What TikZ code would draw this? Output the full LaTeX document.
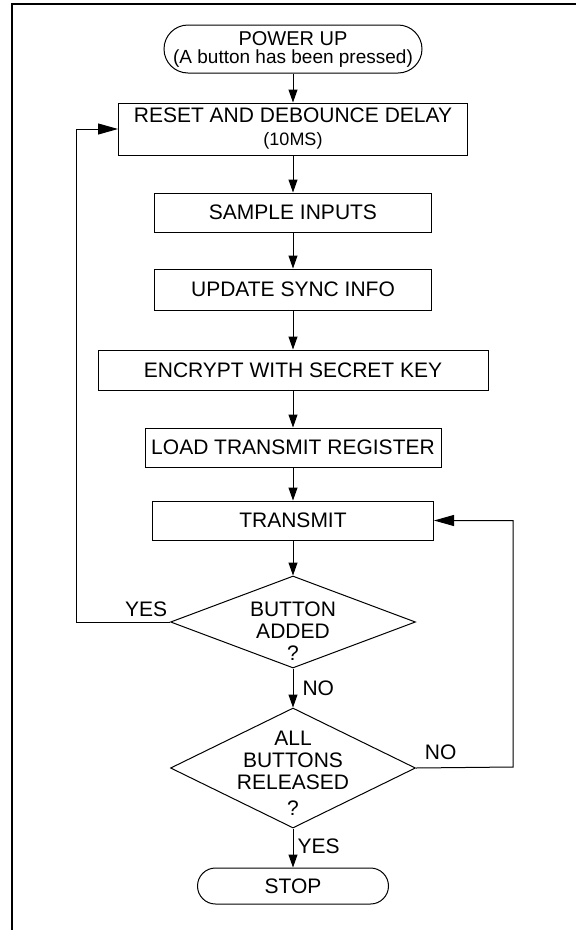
\documentclass[tikz,border=0pt]{standalone}
\usepackage{fontspec}
\setmainfont{Liberation Sans}
\usetikzlibrary{shapes.geometric,arrows.meta}

\begin{document}
\begin{tikzpicture}
  [x=1pt,y=-1pt,line width=1pt,
   every node/.style={font=\fontsize{21}{22}\selectfont,inner sep=0pt},
   stepbox/.style={draw,rectangle,minimum height=39pt,align=center},
   term/.style={draw,rectangle,align=center},
   decide/.style={draw,diamond,minimum width=245pt},
   flow/.style={-{Triangle[length=13pt,width=9pt]}},
   back/.style={-{Triangle[length=20pt,width=11pt]}}]
  \useasboundingbox (0,0) rectangle (576,930);
  \draw[line width=2pt] (576,4) -- (12,4) -- (12,930);

  \node[term,rounded corners=24pt,minimum width=258pt,minimum height=48pt,
        font=\fontsize{20}{18}\selectfont] (pwr) at (293,49)
        {POWER UP\\{\fontsize{19}{18}\selectfont (A button has been pressed)}};
  \node[stepbox,minimum width=349pt,minimum height=52pt,
        font=\fontsize{21}{23}\selectfont] (reset) at (293,129)
        {RESET AND DEBOUNCE DELAY\\{\fontsize{18}{23}\selectfont (10MS)}};
  \node[stepbox,minimum width=277pt] (sample) at (293,212.5) {SAMPLE INPUTS};
  \node[stepbox,minimum width=277pt,minimum height=41pt] (sync) at (293,289.5) {UPDATE SYNC INFO};
  \node[stepbox,minimum width=390pt,minimum height=40pt] (encrypt) at (293,370) {ENCRYPT WITH SECRET KEY};
  \node[stepbox,minimum width=296pt] (load) at (293,447.5) {LOAD TRANSMIT REGISTER};
  \node[stepbox,minimum width=281pt] (transmit) at (293,520.5) {TRANSMIT};
  \node[decide,minimum height=92pt,
        label={[align=center,yshift=-9pt]center:{BUTTON\\ADDED\\?}}] (added) at (293,622) {};
  \node[decide,minimum height=120pt,
        label={[align=center,yshift=-5pt]center:{ALL\\BUTTONS\\RELEASED\\[4pt]?}}] (released) at (293,768) {};
  \node[term,rounded corners=18pt,minimum width=191pt,minimum height=36pt] (stop) at (293,886) {STOP};

  \coordinate (yesturn) at (76,622);
  \coordinate (noturn) at (513,767);

  \draw[flow] (pwr) -- (reset);
  \draw[flow] (reset) -- (sample);
  \draw[flow] (sample) -- (sync);
  \draw[flow] (sync) -- (encrypt);
  \draw[flow] (encrypt) -- (load);
  \draw[flow] (load) -- (transmit);
  \draw[flow] (transmit) -- (added);
  \draw[flow] (added) -- node[right=9pt] {NO} (released);
  \draw[flow] (released) -- node[right=4pt,pos=.45] {YES} (stop);
  \draw[back] (added.west) -- node[above=5pt,pos=.255] {YES} (yesturn) |- (reset.west);
  \draw[back] (released.east) -- node[above=8pt,pos=.255] {NO} (noturn) |- (transmit.east);
\end{tikzpicture}
\end{document}
